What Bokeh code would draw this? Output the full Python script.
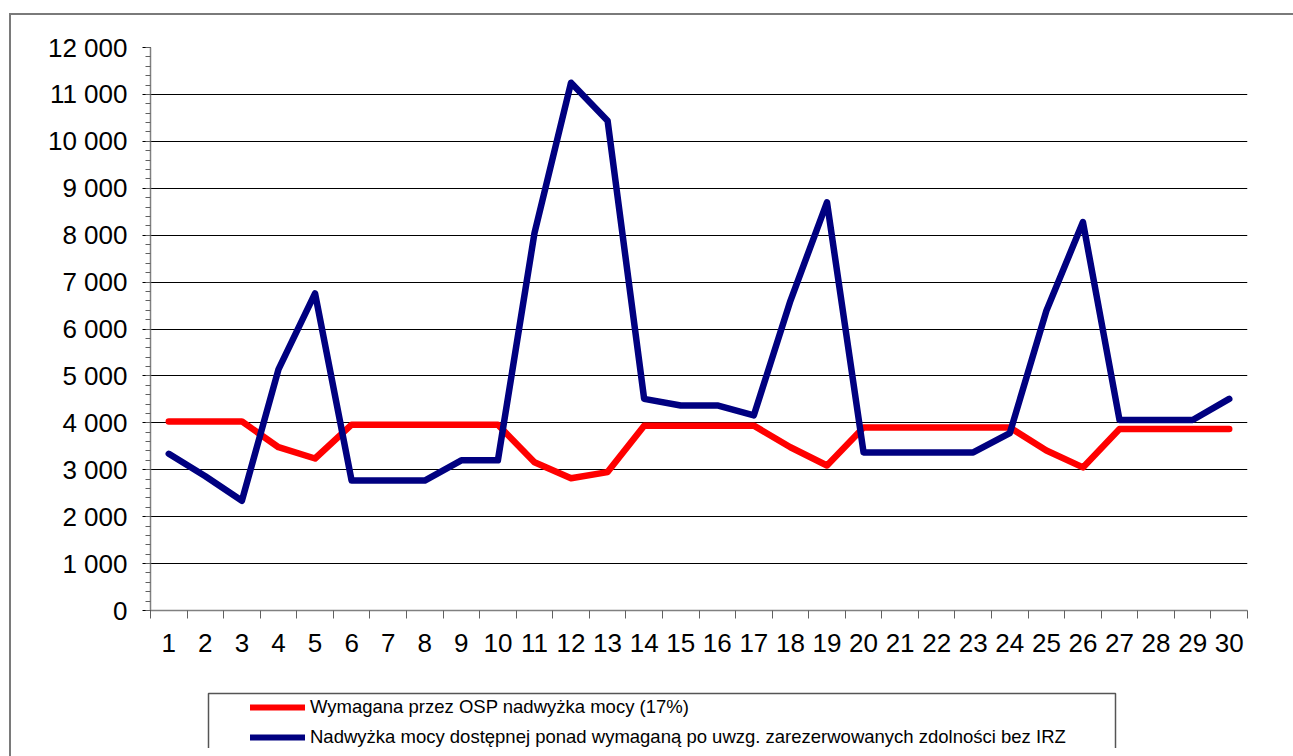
from bokeh.plotting import figure
from bokeh.models import FixedTicker, Legend, LegendItem, Range1d, Div
from bokeh.layouts import column, row
from bokeh.embed import file_html
from bokeh.resources import INLINE

days = list(range(1, 31))
required = [4030, 4030, 4030, 3480, 3240, 3960, 3960, 3960, 3960, 3960,
            3160, 2820, 2950, 3940, 3940, 3940, 3940, 3480, 3090, 3900,
            3900, 3900, 3900, 3900, 3410, 3050, 3870, 3870, 3870, 3870]
surplus = [3340, 2860, 2340, 5140, 6760, 2770, 2770, 2770, 3200, 3200,
           8040, 11250, 10440, 4510, 4370, 4370, 4160, 6600, 8700, 3370,
           3370, 3370, 3370, 3780, 6390, 8280, 4060, 4060, 4060, 4510]
y_ticks = list(range(0, 12001, 1000))
y_labels = {v: f"{v:,}".replace(",", " ") for v in y_ticks}
legend_labels = ["Wymagana przez OSP nadwyżka mocy (17%)",
                 "Nadwyżka mocy dostępnej ponad wymaganą po uwzg. zarezerwowanych zdolności bez IRZ"]

FONT = "Liberation Sans"
RED = "#FF0000"
NAVY = "#000080"
BORDER = "#7a7a7a"

W, H = 1285, 748          # whole page area
LEFT_W, TOP_H = 11, 15    # strips carrying the outer chart border
MAIN_H = 665              # chart figure height
LEG_H = H - TOP_H - MAIN_H
FR_L, FR_R = 150, 1247    # frame left / right (page px)

# outer chart border: top and left edges
top_div = Div(width=W, height=TOP_H, margin=0,
              text=f'<div style="position:absolute;left:9px;top:13px;width:{W}px;height:0;'
                   f'border-top:2px solid {BORDER};"></div>')
left_div = Div(width=LEFT_W, height=H - TOP_H, margin=0,
               text=f'<div style="position:absolute;left:9px;top:0;width:0;height:{H}px;'
                    f'border-left:2px solid {BORDER};"></div>')

# main chart
p = figure(width=W - LEFT_W, height=MAIN_H, output_backend="svg", toolbar_location=None,
           x_range=Range1d(0.5, 30.5), y_range=Range1d(0, 12000),
           min_border_left=FR_L - LEFT_W, min_border_top=47 - TOP_H,
           min_border_right=W - FR_R, min_border_bottom=TOP_H + MAIN_H - 610)
p.outline_line_color = None
p.background_fill_color = "white"
p.border_fill_color = "white"

p.line(days, required, line_color=RED, line_width=6.5, line_cap="round", line_join="round")
p.line(days, surplus, line_color=NAVY, line_width=6.5, line_cap="round", line_join="round")

xa = p.xaxis[0]
xa.ticker = FixedTicker(ticks=days, minor_ticks=[d + 0.5 for d in range(0, 31)])
xa.major_tick_line_color = None
xa.major_tick_out = 0
xa.major_tick_in = 0
xa.minor_tick_out = 8
xa.minor_tick_in = 0
xa.minor_tick_line_color = "#606060"
xa.axis_line_color = "#808080"
xa.axis_line_width = 1.5
xa.major_label_text_font = FONT
xa.major_label_text_font_size = "26px"
xa.major_label_text_color = "black"
xa.major_label_standoff = 15

ya = p.yaxis[0]
ya.ticker = FixedTicker(ticks=y_ticks, minor_ticks=list(range(0, 12001, 200)))
ya.major_label_overrides = y_labels
ya.major_tick_out = 8
ya.major_tick_in = 0
ya.major_tick_line_color = "black"
ya.minor_tick_out = 5
ya.minor_tick_in = 0
ya.minor_tick_line_color = "#606060"
ya.axis_line_color = "#808080"
ya.axis_line_width = 1.5
ya.major_label_text_font = FONT
ya.major_label_text_font_size = "26px"
ya.major_label_text_color = "black"
ya.major_label_standoff = 15

p.xgrid.grid_line_color = None
p.ygrid.grid_line_color = "black"
p.ygrid.grid_line_width = 1
p.ygrid.ticker = FixedTicker(ticks=y_ticks)

# legend area: frame aligned with the chart frame; data coords = page pixels
y0 = TOP_H + MAIN_H
lg = figure(width=W - LEFT_W, height=LEG_H, output_backend="svg", toolbar_location=None,
            x_range=Range1d(FR_L, FR_R), y_range=Range1d(H, y0),
            min_border_left=FR_L - LEFT_W, min_border_right=W - FR_R,
            min_border_top=0, min_border_bottom=0)
lg.axis.visible = False
lg.grid.visible = False
lg.outline_line_color = None
lg.border_fill_color = "white"
lg.background_fill_color = "white"
lg.multi_line(xs=[[208, 208, 1115, 1115]], ys=[[H + 10, 693, 693, H + 10]],
              line_color="#555555", line_width=1.5)
l1 = lg.line(x=[0, 1], y=[0, 0], line_color=RED, line_width=6, line_cap="round")
l2 = lg.line(x=[0, 1], y=[0, 0], line_color=NAVY, line_width=6, line_cap="round")
legend = Legend(items=[LegendItem(label=legend_labels[0], renderers=[l1]),
                       LegendItem(label=legend_labels[1], renderers=[l2])],
                location=(250 - FR_L, 0), orientation="vertical",
                padding=0, margin=0, spacing=8,
                glyph_width=55, glyph_height=22, label_height=22, label_standoff=5,
                border_line_color=None, background_fill_alpha=0,
                label_text_font=FONT, label_text_font_size="18.5px", label_text_color="black")
lg.add_layout(legend, "center")

layout = column(top_div, row(left_div, column(p, lg, spacing=0), spacing=0), spacing=0)

open("out.html", "w").write(file_html(layout, INLINE))
